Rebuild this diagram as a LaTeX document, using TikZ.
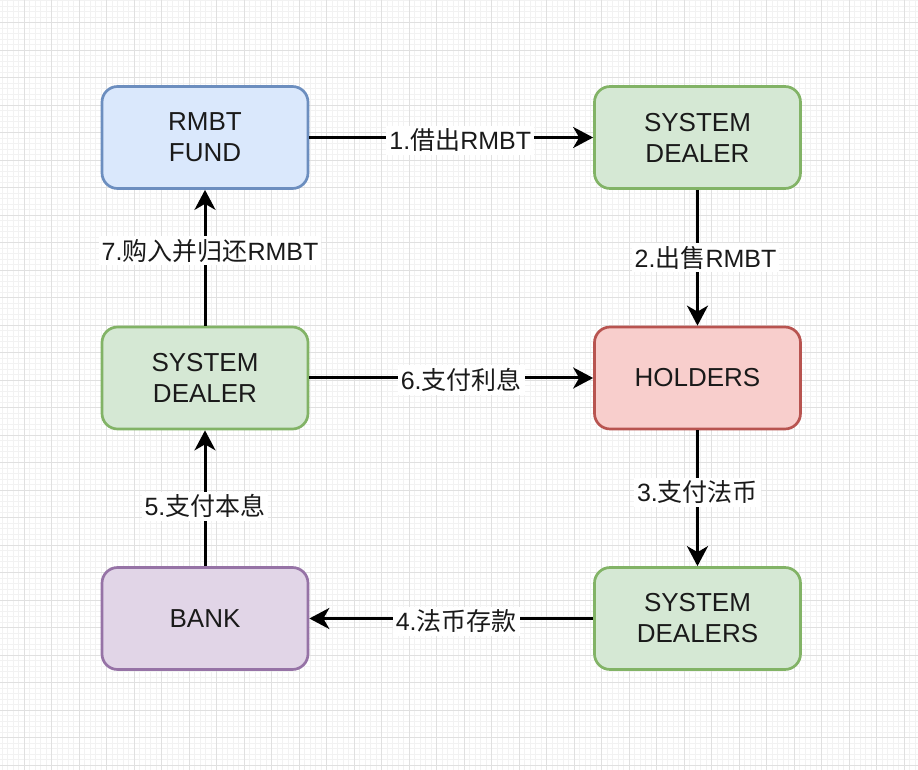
\documentclass[tikz,border=0pt]{standalone}
\usepackage{fontspec}
\setmainfont{Liberation Sans}
\newfontfamily\cjk{Noto Sans CJK SC}
\usetikzlibrary{arrows.meta}
\definecolor{GridMinor}{HTML}{F2F2F2}
\definecolor{GridMajor}{HTML}{E0E0E0}
\definecolor{TextBlack}{HTML}{1A1A1A}
\definecolor{FundFill}{HTML}{DAE8FC}
\definecolor{FundLine}{HTML}{6C8EBF}
\definecolor{DealerFill}{HTML}{D5E8D4}
\definecolor{DealerLine}{HTML}{82B366}
\definecolor{HolderFill}{HTML}{F8CECC}
\definecolor{HolderLine}{HTML}{B85450}
\definecolor{BankFill}{HTML}{E1D5E7}
\definecolor{BankLine}{HTML}{9673A6}

\begin{document}
\begin{tikzpicture}[x = .5pt, y = -.5pt]%
    %
    \def\boxwidth{103pt}%
    \def\boxheight{51pt}%
    \def\leftcol{205}%
    \def\rightcol{697.5}%
    %
    \tikzstyle{minorgrid} = [draw = GridMinor, line width = .5pt]%
    \tikzstyle{majorgrid} = [draw = GridMajor, line width = .5pt]%
    \tikzstyle{block} = [rectangle, rounded corners = 7.8pt, minimum width = \boxwidth, minimum height = \boxheight, line width = 1.35pt, align = center, font = \fontsize{13}{15.5}\selectfont, text = TextBlack]%
    \tikzstyle{fund} = [block, fill = FundFill, draw = FundLine]%
    \tikzstyle{dealer} = [block, fill = DealerFill, draw = DealerLine]%
    \tikzstyle{holder} = [block, fill = HolderFill, draw = HolderLine]%
    \tikzstyle{bank} = [block, fill = BankFill, draw = BankLine]%
    \tikzstyle{arrow} = [-{Stealth[length = 10pt, width = 10.5pt, inset = 3pt]}, line width = 1.5pt, draw = black]%
    \tikzstyle{tag} = [fill = white, inner sep = 1.5pt, font = \fontsize{12.5}{14}\selectfont, text = TextBlack]%
    %
    % background grid
    \fill [white] (0, 0) rectangle (918, 770);%
    \useasboundingbox (0, 0) rectangle (918, 770);%
    \begin{scope}%
        \clip (0, 0) rectangle (918, 770);%
        \foreach \i in {-4,...,162}%
            \draw [minorgrid] ({24 + 5.5*\i}, 0) -- ({24 + 5.5*\i}, 770);%
        \foreach \j in {-4,...,135}%
            \draw [minorgrid] (0, {23 + 5.5*\j}) -- (918, {23 + 5.5*\j});%
        \foreach \i in {0,...,32}%
            \draw [majorgrid] ({24 + 27.5*\i}, 0) -- ({24 + 27.5*\i}, 770);%
        \foreach \j in {0,...,27}%
            \draw [majorgrid] (0, {23 + 27.5*\j}) -- (918, {23 + 27.5*\j});%
    \end{scope}%
    %
    % boxes
    \node [fund] (fund) at (\leftcol, 137.5) {RMBT\\FUND};%
    \node [dealer] (lender) at (\rightcol, 137.5) {SYSTEM\\DEALER};%
    \node [dealer] (buyer) at (\leftcol, 378) {SYSTEM\\DEALER};%
    \node [holder] (holders) at (\rightcol, 378) {HOLDERS};%
    \node [bank] (bank) at (\leftcol, 618.5) {BANK};%
    \node [dealer] (dealers) at (\rightcol, 618.5) {SYSTEM\\DEALERS};%
    %
    % flows
    \draw [arrow] (fund) -- (lender) node [tag, midway, xshift = 4.5pt, yshift = -1.5pt] {1.{\cjk 借出}RMBT};%
    \draw [arrow] (lender) -- (holders) node [tag, midway, xshift = 4pt] {2.{\cjk 出售}RMBT};%
    \draw [arrow] (holders) -- (dealers) node [tag, midway, yshift = 3pt] {3.{\cjk 支付法币}};%
    \draw [arrow] (dealers) -- (bank) node [tag, midway, xshift = 2.5pt, yshift = -1.5pt] {4.{\cjk 法币存款}};%
    \draw [arrow] (bank) -- (buyer) node [tag, midway, yshift = -4pt] {5.{\cjk 支付本息}};%
    \draw [arrow] (buyer) -- (holders) node [tag, midway, xshift = 5pt, yshift = -1pt] {6.{\cjk 支付利息}};%
    \draw [arrow] (buyer) -- (fund) node [tag, midway, xshift = 2.5pt, yshift = 3.5pt] {7.{\cjk 购入并归还}RMBT};%
\end{tikzpicture}
\end{document}
